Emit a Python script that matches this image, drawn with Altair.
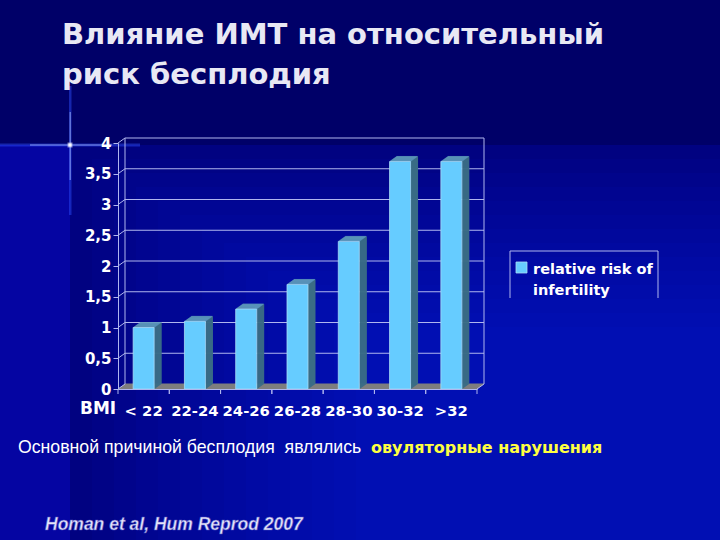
import altair as alt
import pandas as pd
import numpy as np

# ---- data ----
categories = ["< 22", "22-24", "24-26", "26-28", "28-30", "30-32", ">32"]
risk = [1.0, 1.1, 1.3, 1.7, 2.4, 3.7, 3.7]
y_ticks = [0, 0.5, 1, 1.5, 2, 2.5, 3, 3.5, 4]
title_lines = ["Влияние ИМТ на относительный", "риск бесплодия"]
legend_lines = ["relative risk of", "infertility"]
axis_title = "BMI"
caption_plain = "Основной причиной бесплодия\u00a0 являлись"
caption_bold = "овуляторные нарушения"
source_note = "Homan et al, Hum Reprod 2007"

# ---- geometry / style ----
W, H = 359, 246
LEFT, TOP = 118, 143
DX, DY = 7, 5
BAR = 21
FRONT = "#66ccff"
EDGE = "#a8dcf5"
SIDE = "#3b6d86"
TOPC = "#609cbb"
FLOOR = "#7f7f7f"
GRID = "#b0b6ee"
TITLEC = "#e8e8f4"

df = pd.DataFrame({"cat": categories, "value": risk, "base": [0.0] * len(risk)})
one = pd.DataFrame({"value": [0.0], "hi": [4.0]})
grid_df = pd.DataFrame({"value": y_ticks})

XAX = alt.Axis(title=None, labelAngle=0, ticks=False, labelPadding=26, labelBaseline="alphabetic",
               labelFont="DejaVu Sans", labelFontWeight="bold", labelFontSize=14.8,
               labelColor="white", domainColor=GRID, domainWidth=1, zindex=1)
YAX = alt.Axis(title=None, values=y_ticks, grid=False, tickSize=5, tickColor=GRID, domainColor=GRID,
               labelPadding=2, labelFont="DejaVu Sans", labelFontWeight="bold", labelFontSize=15,
               labelColor="white", labelExpr="replace(toString(datum.value), '.', ',')", zindex=1)
YSCALE = alt.Scale(domain=[0, 4], nice=False, zero=True)
xs = alt.X("cat:N", sort=categories, scale=alt.Scale(paddingInner=0, paddingOuter=0), axis=XAX)
ys = alt.Y("value:Q", scale=YSCALE, axis=YAX)

layers = []

def box(x0, x1, y0, y1, color, opacity=1.0):
    return alt.Chart(pd.DataFrame({"d": [0]})).mark_rect(fill=color, opacity=opacity).encode(
        x=alt.value(x0 - LEFT), x2=alt.value(x1 - LEFT), y=alt.value(y0 - TOP), y2=alt.value(y1 - TOP))

# background panels (stepped glow toward lower right)
layers.append(box(70, 720, 145, 540, "#00007c"))
for i in range(14):
    layers.append(box(70 + i * 22, 720, 145 + i * 14, 540, "#1a2aff", 0.045))
layers.append(box(0, 70, 145, 540, "#0505a2"))

# glow star
layers.append(box(69, 71.5, 86, 215, "#2f50ff", 0.45))
layers.append(box(69.5, 71, 112, 180, "#9fb4ff", 0.55))
layers.append(box(0, 140, 143.5, 146.5, "#2f50ff", 0.45))
layers.append(box(30, 112, 144.2, 145.8, "#9fb4ff", 0.55))
layers.append(box(67.5, 72.5, 142.5, 147.5, "#ffffff", 0.5))
layers.append(box(68.5, 71.5, 143.5, 146.5, "#ffffff", 0.95))

# floor
for k in np.arange(0, DY + 0.01, 0.5):
    layers.append(alt.Chart(one).mark_rule(color=FLOOR, strokeWidth=1, yOffset=float(-k)).encode(
        x=alt.value(float(k * DX / DY)), x2=alt.value(float(W + k * DX / DY)), y=ys))

# back wall grid
layers.append(alt.Chart(grid_df).transform_filter("datum.value > 0").mark_rule(
    color=GRID, strokeWidth=1, yOffset=-DY).encode(x=alt.value(DX), x2=alt.value(W + DX), y=ys))
for xv in (DX, W + DX):
    layers.append(alt.Chart(one).mark_rule(color=GRID, strokeWidth=1, yOffset=-DY, y2Offset=-DY).encode(
        x=alt.value(xv), y=ys, y2="hi:Q"))
layers.append(alt.Chart(one).mark_rule(color=GRID, strokeWidth=1, y2Offset=-DY).encode(
    x=alt.value(W), x2=alt.value(W + DX), y=ys, y2="value:Q"))
# tick connectors
layers.append(alt.Chart(grid_df).mark_rule(color=GRID, strokeWidth=1, y2Offset=-DY).encode(
    x=alt.value(0), x2=alt.value(DX), y=ys, y2="value:Q"))

# bars: side faces
for k in np.arange(0.5, DX + 0.01, 0.5):
    layers.append(alt.Chart(df).mark_rule(color=SIDE, strokeWidth=1, xOffset=float(BAR / 2 + k),
                                          yOffset=float(-k * DY / DX), y2Offset=float(-k * DY / DX)).encode(
        x=xs, y=ys, y2="base:Q"))
# top faces
for k in np.arange(0.5, DX + 0.01, 0.5):
    layers.append(alt.Chart(df).mark_tick(color=TOPC, size=BAR, thickness=1, xOffset=float(k),
                                          yOffset=float(-k * DY / DX)).encode(x=xs, y=ys))
# front faces
layers.append(alt.Chart(df).mark_bar(size=BAR, color=FRONT, stroke=EDGE, strokeWidth=0.8).encode(x=xs, y=ys))

# x tick marks at band edges
for off in (-W / 14, W / 14):
    layers.append(alt.Chart(df).mark_rule(color=GRID, strokeWidth=1, xOffset=off).encode(
        x=xs, y=alt.value(H), y2=alt.value(H + 5)))

# texts
def txt(s, x, y, size, weight="normal", color="white", font="DejaVu Sans", style="normal", **kw):
    return alt.Chart(pd.DataFrame({"t": [s]})).mark_text(
        align="left", baseline="alphabetic", font=font, fontSize=size, fontWeight=weight,
        fontStyle=style, color=color, **kw).encode(x=alt.value(x), y=alt.value(y), text="t:N")

layers.append(txt(title_lines[0], 62 - LEFT, 44 - TOP, 29, "bold", TITLEC))
layers.append(txt(title_lines[1], 62 - LEFT, 84 - TOP, 29, "bold", TITLEC))
layers.append(txt(axis_title, 80 - LEFT, 414 - TOP, 17, "bold"))
layers.append(txt(caption_plain, 18 - LEFT, 453 - TOP, 17.7, "normal", "white", "Liberation Sans"))
layers.append(txt(caption_bold, 371 - LEFT, 453 - TOP, 16, "bold", "#ffff40"))
layers.append(txt(source_note, 45 - LEFT, 530 - TOP, 17.5, "bold", "#e4e4fa", "Liberation Sans", "italic",
                  stroke="#5050c0", strokeWidth=0.5))

# legend
LX0, LX1, LY0, LY1 = 510 - LEFT, 658 - LEFT, 251 - TOP, 298 - TOP
layers.append(alt.Chart(pd.DataFrame({"d": [0]})).mark_rule(color=GRID, strokeWidth=1).encode(
    x=alt.value(LX0), x2=alt.value(LX1), y=alt.value(LY0)))
layers.append(alt.Chart(pd.DataFrame({"d": [0]})).mark_rule(color=GRID, strokeWidth=1).encode(
    x=alt.value(LX0), y=alt.value(LY0), y2=alt.value(LY1)))
layers.append(alt.Chart(pd.DataFrame({"d": [0]})).mark_rule(color=GRID, strokeWidth=1).encode(
    x=alt.value(LX1), y=alt.value(LY0), y2=alt.value(LY1)))
layers.append(alt.Chart(pd.DataFrame({"d": [0]})).mark_rect(fill=FRONT, stroke=EDGE, strokeWidth=0.8).encode(
    x=alt.value(516 - LEFT), x2=alt.value(527 - LEFT), y=alt.value(262 - TOP), y2=alt.value(273 - TOP)))
layers.append(txt(legend_lines[0], 533 - LEFT, 274 - TOP, 14.5, "bold"))
layers.append(txt(legend_lines[1], 533 - LEFT, 295 - TOP, 14.5, "bold"))

chart = alt.layer(*layers).properties(
    width=W, height=H,
    padding={"left": LEFT, "top": TOP, "right": 720 - LEFT - W, "bottom": 540 - TOP - H},
    autosize=alt.AutoSizeParams(type="none"),
    background="#000068",
).configure_view(strokeWidth=0)

chart.save("out.html", embed_options={"renderer": "svg", "actions": False})
